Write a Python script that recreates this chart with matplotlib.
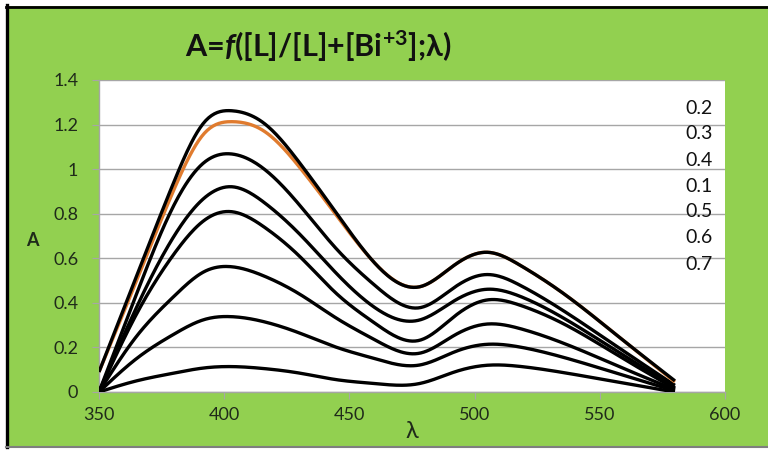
import numpy as np
import matplotlib
matplotlib.use("Agg")
import matplotlib.pyplot as plt
from matplotlib.lines import Line2D
from matplotlib.patches import Rectangle

plt.rcParams['font.family'] = ['Lato', 'DejaVu Sans']
plt.rcParams['mathtext.fontset'] = 'custom'
plt.rcParams['mathtext.it'] = 'Lato:italic:bold'
plt.rcParams['mathtext.rm'] = 'Lato:bold'

# wavelengths at which values were read
wavelength = [350, 365, 380, 392, 403, 416, 430, 445, 460, 478, 492, 505, 518, 535, 558, 580]

s_02 = [0.09, 0.52, 0.945, 1.21, 1.262, 1.205, 1.03, 0.80, 0.58, 0.472, 0.57, 0.627, 0.57, 0.446, 0.244, 0.05]
s_03 = [0.09, 0.50, 0.91, 1.16, 1.213, 1.17, 1.01, 0.79, 0.58, 0.472, 0.57, 0.627, 0.57, 0.446, 0.244, 0.045]
s_04 = [0.0, 0.44, 0.84, 1.03, 1.068, 1.0, 0.84, 0.64, 0.48, 0.378, 0.47, 0.527, 0.48, 0.368, 0.195, 0.03]
s_01 = [0.0, 0.38, 0.70, 0.87, 0.921, 0.85, 0.71, 0.53, 0.38, 0.323, 0.41, 0.461, 0.43, 0.335, 0.175, 0.02]
s_05 = [0.0, 0.35, 0.62, 0.77, 0.809, 0.74, 0.61, 0.44, 0.31, 0.232, 0.34, 0.413, 0.39, 0.309, 0.159, 0.015]
s_06 = [0.0, 0.25, 0.43, 0.54, 0.562, 0.52, 0.44, 0.33, 0.235, 0.174, 0.255, 0.305, 0.285, 0.221, 0.113, 0.01]
s_07 = [0.0, 0.15, 0.26, 0.325, 0.338, 0.315, 0.265, 0.20, 0.15, 0.121, 0.18, 0.214, 0.202, 0.157, 0.080, 0.005]
s_08 = [0.0, 0.05, 0.085, 0.108, 0.114, 0.105, 0.085, 0.055, 0.038, 0.038, 0.09, 0.12, 0.115, 0.088, 0.043, 0.0]

legend_labels = ['0.2', '0.3', '0.4', '0.1', '0.5', '0.6', '0.7']
title_text = r'A=$f$([L]/[L]+[Bi$^{+3}$];λ)'


def smooth(x, y, n=400):
    """Natural cubic spline through the read points."""
    x = np.asarray(x, float)
    y = np.asarray(y, float)
    N = len(x)
    h = np.diff(x)
    A = np.zeros((N, N))
    b = np.zeros(N)
    A[0, 0] = 1
    A[-1, -1] = 1
    for i in range(1, N - 1):
        A[i, i - 1] = h[i - 1]
        A[i, i] = 2 * (h[i - 1] + h[i])
        A[i, i + 1] = h[i]
        b[i] = 6 * ((y[i + 1] - y[i]) / h[i] - (y[i] - y[i - 1]) / h[i - 1])
    M = np.linalg.solve(A, b)
    xs = np.linspace(x[0], x[-1], n)
    idx = np.clip(np.searchsorted(x, xs) - 1, 0, N - 2)
    x0, x1 = x[idx], x[idx + 1]
    hh = x1 - x0
    t0 = x1 - xs
    t1 = xs - x0
    ys = (M[idx] * t0**3 / (6 * hh) + M[idx + 1] * t1**3 / (6 * hh)
          + (y[idx] / hh - M[idx] * hh / 6) * t0 + (y[idx + 1] / hh - M[idx + 1] * hh / 6) * t1)
    return xs, ys


W, H = 768, 450
fig = plt.figure(figsize=(W / 100, H / 100), dpi=100, facecolor='white')

# green background panel with border
fig.add_artist(Rectangle((6 / W, 1 - 447 / H), 1 - 6 / W, 441 / H, transform=fig.transFigure,
                         facecolor='#92D050', edgecolor='none', zorder=-10))
fig.add_artist(Line2D([7 / W, 7 / W], [1 - 447 / H, 1 - 5 / H], transform=fig.transFigure,
                      color='black', lw=2.4))
fig.add_artist(Line2D([6 / W, 1], [1 - 6.5 / H, 1 - 6.5 / H], transform=fig.transFigure,
                      color='black', lw=2.0))
fig.add_artist(Line2D([6 / W, 1], [1 - 447 / H, 1 - 447 / H], transform=fig.transFigure,
                      color='#7f7f7f', lw=1.5))

ax = fig.add_axes([99 / W, 1 - 392 / H, 626 / W, 312 / H])
ax.set_facecolor('white')

series = [s_08, s_07, s_06, s_05, s_01, s_04, s_03, s_02]
colors = ['black'] * 6 + ['#E07B2E', 'black']
for ys, c in zip(series, colors):
    sx, sy = smooth(wavelength, ys)
    ax.plot(sx, sy, color=c, lw=2.4, solid_capstyle='butt', zorder=3)

ax.set_xlim(350, 600)
ax.set_ylim(0, 1.4)
ax.set_xticks([350, 400, 450, 500, 550, 600])
ax.set_yticks([0, 0.2, 0.4, 0.6, 0.8, 1.0, 1.2, 1.4])
ax.set_yticklabels(['0', '0.2', '0.4', '0.6', '0.8', '1', '1.2', '1.4'])
ax.grid(axis='y', color='#a6a6a6', lw=1.0, zorder=0)
for sp in ['top', 'right']:
    ax.spines[sp].set_visible(False)
for sp in ['left', 'bottom']:
    ax.spines[sp].set_color('#a6a6a6')
    ax.spines[sp].set_linewidth(1.0)
ax.tick_params(axis='both', colors='#a6a6a6', labelcolor='#1f2a1a', labelsize=13, length=5)
ax.tick_params(axis='y', pad=10)
ax.tick_params(axis='x', pad=6)

fig.text(32 / W, 1 - 240 / H, 'A', fontsize=13, fontweight='bold', color='#1f2a1a',
         ha='center', va='center')
fig.text(412 / W, 1 - 432 / H, 'λ', fontsize=17, color='#1f2a1a', ha='center', va='center')

# legend texts
ly = [108, 134, 160, 186, 212, 238, 264]
for lab, y in zip(legend_labels, ly):
    fig.text(699 / W, 1 - y / H, lab, fontsize=14, color='#111111', ha='center', va='center')

fig.text(318 / W, 1 - 46 / H, title_text, fontsize=22, fontweight='bold', color='#111111',
         ha='center', va='center')

fig.savefig('out.png', dpi=100, facecolor=fig.get_facecolor())
